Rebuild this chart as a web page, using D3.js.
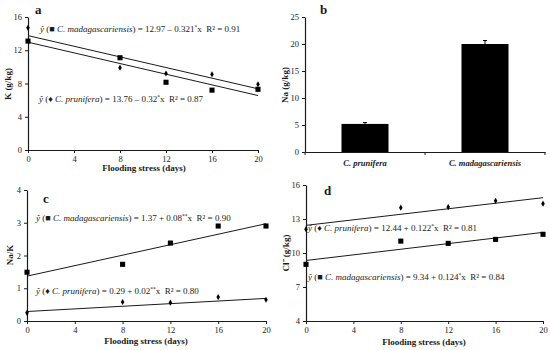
<!DOCTYPE html>
<html><head><meta charset="utf-8">
<script src="https://cdn.jsdelivr.net/npm/d3@7"></script>
<style>
html,body{margin:0;padding:0;background:#fff;}
svg{display:block;font-family:"Liberation Serif","Times New Roman",serif;}
</style></head>
<body>
<script>
// ---- data ----
const days = [0, 8, 12, 16, 20];
const dayTicks = [0, 4, 8, 12, 16, 20];
const kMada = [13.1, 11.1, 8.15, 7.2, 7.3];
const kPrun = [14.7, 9.9, 9.2, 9.1, 7.9];
const kFitMada = [12.97, -0.321];
const kFitPrun = [13.76, -0.32];
const kTicks = [0, 4, 8, 12, 16];
const naSpecies = ["C. prunifera", "C. madagascariensis"];
const naValues = [5.2, 20.0];
const naErrors = [0.25, 0.65];
const naTicks = [0, 5, 10, 15, 20, 25];
const naKMada = [1.49, 1.73, 2.38, 2.9, 2.9];
const naKPrun = [0.25, 0.58, 0.56, 0.73, 0.65];
const naKFitMada = [1.37, 0.08];
const naKFitPrun = [0.29, 0.02];
const naKTicks = [0, 1, 2, 3, 4];
const clPrun = [12.1, 14.0, 14.05, 14.6, 14.35];
const clMada = [9.0, 11.05, 10.85, 11.2, 11.65];
const clFitPrun = [12.44, 0.122];
const clFitMada = [9.34, 0.124];
const clTicks = [4, 7, 10, 13, 16];

const svg = d3.select("body").append("svg").attr("width", 550).attr("height", 350);
const ink = "#1a1a1a";
const serif = "Liberation Serif";

function styleAxis(a) {
  a.attr("font-family", serif);
  a.select(".domain").attr("stroke", ink).attr("stroke-width", 1.2);
  a.selectAll(".tick line").attr("stroke", ink);
  a.selectAll(".tick text").attr("fill", ink).attr("font-size", 8.5);
}

function axes(g, x, y, xTicks, yTicks) {
  const xa = g.append("g").attr("transform", `translate(0,${y.range()[0]})`)
    .call(d3.axisBottom(x).tickValues(xTicks).tickSize(3).tickSizeOuter(0).tickFormat(d3.format("d")));
  const ya = g.append("g").attr("transform", `translate(${x.range()[0]},0)`)
    .call(d3.axisLeft(y).tickValues(yTicks).tickSize(3).tickSizeOuter(0).tickFormat(d3.format("d")));
  styleAxis(xa); styleAxis(ya);
}

function fitLine(g, x, y, coef) {
  const d0 = x.domain()[0], d1 = x.domain()[1];
  g.append("line")
    .attr("x1", x(d0)).attr("y1", y(coef[0] + coef[1] * d0))
    .attr("x2", x(d1)).attr("y2", y(coef[0] + coef[1] * d1))
    .attr("stroke", ink).attr("stroke-width", 1);
}

function points(g, x, y, vals, type) {
  const sym = type === "square" ? d3.symbolSquare : d3.symbolDiamond;
  const size = type === "square" ? 26 : 11;
  g.selectAll(null).data(vals).join("path")
    .attr("d", d3.symbol(sym, size))
    .attr("transform", (d, i) => `translate(${x(days[i])},${y(d)})`)
    .attr("fill", "#000");
}

function equation(g, xp, yp, sym, species, rest, star, r2) {
  const t = g.append("text").attr("x", xp).attr("y", yp).attr("font-size", 9).attr("fill", ink);
  t.append("tspan").attr("font-style", "italic").text("ŷ");
  t.append("tspan").text(" (" + sym + " ");
  t.append("tspan").attr("font-style", "italic").text(species);
  t.append("tspan").text(") = " + rest);
  t.append("tspan").attr("font-size", 5.5).attr("dy", -3).text(star);
  t.append("tspan").attr("dy", 3).text("x\u00a0 R² = " + r2);
}

function xTitle(g, cx, yp) {
  g.append("text").attr("x", cx).attr("y", yp).attr("text-anchor", "middle")
    .attr("font-weight", "bold").attr("font-size", 9).attr("fill", ink).text("Flooding stress (days)");
}
function yTitle(g, xp, cy, txt) {
  g.append("text").attr("transform", `translate(${xp},${cy}) rotate(-90)`).attr("text-anchor", "middle")
    .attr("font-weight", "bold").attr("font-size", 9).attr("fill", ink).text(txt);
}
function letter(g, xp, yp, txt) {
  g.append("text").attr("x", xp).attr("y", yp).attr("font-weight", "bold").attr("font-size", 13)
    .attr("fill", ink).text(txt);
}

// ---- panel a ----
{
  const g = svg.append("g");
  const x = d3.scaleLinear().domain([0, 20]).range([28, 258]);
  const y = d3.scaleLinear().domain([0, 16]).range([150, 17]);
  axes(g, x, y, dayTicks, kTicks);
  fitLine(g, x, y, kFitPrun);
  fitLine(g, x, y, kFitMada);
  points(g, x, y, kMada, "square");
  points(g, x, y, kPrun, "diamond");
  equation(g, 40, 32, "■", "C. madagascariensis", "12.97 – 0.321", "*", "0.91");
  equation(g, 39, 102, "♦", "C. prunifera", "13.76 – 0.32", "*", "0.87");
  xTitle(g, 144, 171);
  yTitle(g, 11, 84, "K (g/kg)");
  letter(g, 35, 14, "a");
}

// ---- panel b ----
{
  const g = svg.append("g");
  const x = d3.scaleBand().domain(naSpecies).range([305, 545]).paddingInner(0).paddingOuter(0);
  const y = d3.scaleLinear().domain([0, 25]).range([152, 17]);
  const bw = 47;
  g.selectAll(null).data(naValues).join("rect")
    .attr("x", (d, i) => x(naSpecies[i]) + x.bandwidth() / 2 - bw / 2)
    .attr("width", bw)
    .attr("y", d => y(d)).attr("height", d => y(0) - y(d)).attr("fill", "#000");
  g.selectAll(null).data(naValues).join("path")
    .attr("d", (d, i) => {
      const cx = x(naSpecies[i]) + x.bandwidth() / 2;
      const top = y(d + naErrors[i]);
      return `M${cx},${y(d)}V${top}M${cx - 2},${top}H${cx + 2}`;
    })
    .attr("stroke", "#000").attr("stroke-width", 1).attr("fill", "none");
  const xa = g.append("g").attr("transform", `translate(0,${y(0)})`)
    .call(d3.axisBottom(x).tickSize(0).tickSizeOuter(0));
  styleAxis(xa);
  xa.selectAll(".tick text").attr("font-weight", "bold").attr("font-style", "italic").attr("dy", "1.35em");
  // category boundary ticks
  g.selectAll(null).data([305, 425, 545]).join("line")
    .attr("x1", d => d).attr("x2", d => d).attr("y1", y(0)).attr("y2", y(0) + 3).attr("stroke", ink);
  const ya = g.append("g").attr("transform", `translate(305,0)`)
    .call(d3.axisLeft(y).tickValues(naTicks).tickSize(3).tickSizeOuter(0));
  styleAxis(ya);
  yTitle(g, 288, 85, "Na (g/kg)");
  letter(g, 320, 14, "b");
}

// ---- panel c ----
{
  const g = svg.append("g");
  const x = d3.scaleLinear().domain([0, 20]).range([27, 266]);
  const y = d3.scaleLinear().domain([0, 4]).range([321, 190]);
  axes(g, x, y, dayTicks, naKTicks);
  fitLine(g, x, y, naKFitMada);
  fitLine(g, x, y, naKFitPrun);
  points(g, x, y, naKMada, "square");
  points(g, x, y, naKPrun, "diamond");
  equation(g, 36, 221, "■", "C. madagascariensis", "1.37 + 0.08", "**", "0.90");
  equation(g, 36, 294, "♦", "C. prunifera", "0.29 + 0.02", "**", "0.80");
  xTitle(g, 146, 344);
  yTitle(g, 13, 255, "Na/K");
  letter(g, 43, 203, "c");
}

// ---- panel d ----
{
  const g = svg.append("g");
  const x = d3.scaleLinear().domain([0, 20]).range([306, 543]);
  const y = d3.scaleLinear().domain([4, 16]).range([321, 185]);
  axes(g, x, y, dayTicks, clTicks);
  fitLine(g, x, y, clFitPrun);
  fitLine(g, x, y, clFitMada);
  points(g, x, y, clPrun, "diamond");
  points(g, x, y, clMada, "square");
  equation(g, 308, 231, "♦", "C. prunifera", "12.44 + 0.122", "*", "0.81");
  equation(g, 308, 280, "■", "C. madagascariensis", "9.34 + 0.124", "*", "0.84");
  xTitle(g, 424, 345);
  yTitle(g, 289, 253, "Cl⁻ (g/kg)");
  letter(g, 324, 195, "d");
}
</script>
</body></html>
